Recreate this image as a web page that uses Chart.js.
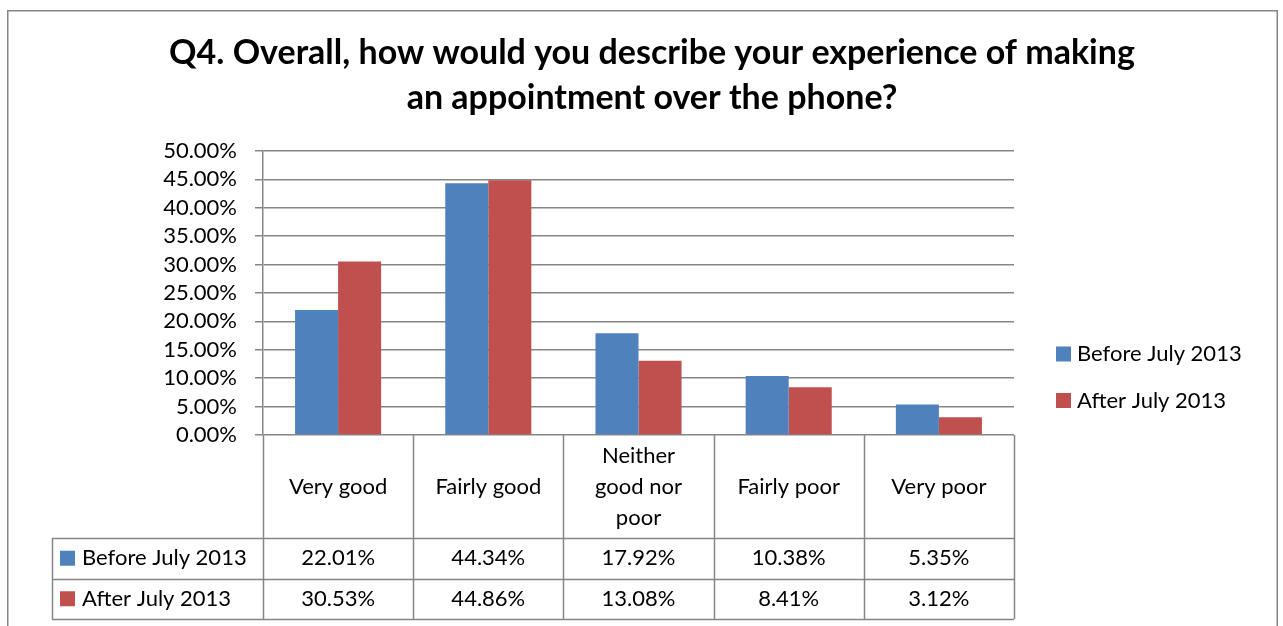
<!DOCTYPE html>
<html>
<head>
<meta charset="utf-8">
<script src="https://cdn.jsdelivr.net/npm/chart.js@4.4.1/dist/chart.umd.min.js"></script>
<style>
  html, body { margin: 0; padding: 0; background: #ffffff; }
  canvas { display: block; }
</style>
</head>
<body>
<canvas id="chart" width="1283" height="626"></canvas>
<script>
// Survey answers, Q4 – share of respondents per answer (percent)
const titleLines = [
  'Q4. Overall, how would you describe your experience of making',
  'an appointment over the phone?'
];
const categories = [
  ['Very good'],
  ['Fairly good'],
  ['Neither', 'good nor', 'poor'],
  ['Fairly poor'],
  ['Very poor']
];
const seriesNames = ['Before July 2013', 'After July 2013'];
const beforeValues = [22.01, 44.34, 17.92, 10.38, 5.35];
const afterValues = [30.53, 44.86, 13.08, 8.41, 3.12];
const seriesColors = ['#4F81BD', '#C0504D'];

const FONT = 'Lato, "Open Sans", sans-serif';
const TEXT_SIZE = 22;
const LINE = '#868686';
const fmt = v => v.toFixed(2) + '%';

// Frame, title and the side legend
const framePlugin = {
  id: 'frame',
  beforeDraw(chart) {
    const ctx = chart.ctx;
    ctx.save();
    ctx.fillStyle = '#ffffff';
    ctx.fillRect(0, 0, chart.width, chart.height);
    ctx.strokeStyle = LINE;
    ctx.lineWidth = 1.5;
    ctx.strokeRect(7.75, 10.75, 1269.5, 700);
    ctx.restore();
  },
  afterDraw(chart) {
    const ctx = chart.ctx;
    ctx.save();
    ctx.fillStyle = '#000000';
    ctx.textAlign = 'center';
    ctx.textBaseline = 'middle';
    ctx.font = 'bold 34px ' + FONT;
    titleLines.forEach((t, i) => ctx.fillText(t, 652, 53 + i * 45));

    // legend at the right of the plot
    ctx.textAlign = 'left';
    ctx.font = TEXT_SIZE + 'px ' + FONT;
    chart.data.datasets.forEach((ds, i) => {
      const cy = 354 + i * 46.5;
      ctx.fillStyle = ds.backgroundColor;
      ctx.fillRect(1056, cy - 7.5, 15, 15);
      ctx.fillStyle = '#000000';
      ctx.fillText(ds.label, 1077, cy);
    });
    ctx.restore();
  }
};

// Data table under the category axis, columns follow the x scale
const tablePlugin = {
  id: 'dataTable',
  afterDraw(chart) {
    const ctx = chart.ctx;
    const xs = chart.scales.x;
    const ys = chart.scales.y;
    const n = chart.data.labels.length;
    const colW = (xs.right - xs.left) / n;
    const top = ys.bottom;
    const headBottom = top + 103;
    const rowH = 40.5;
    const tableLeft = 52;
    const rows = chart.data.datasets.length;
    const bottom = headBottom + rowH * rows;

    ctx.save();
    ctx.strokeStyle = LINE;
    ctx.lineWidth = 1.5;
    ctx.beginPath();
    // column separators
    for (let i = 0; i <= n; i++) {
      const x = Math.round(xs.left + i * colW) + 0.5;
      ctx.moveTo(x, top);
      ctx.lineTo(x, bottom);
    }
    // left edge of the series-name column
    ctx.moveTo(tableLeft + 0.5, headBottom);
    ctx.lineTo(tableLeft + 0.5, bottom);
    // row lines
    for (let r = 0; r <= rows; r++) {
      const y = Math.round(headBottom + r * rowH) + 0.5;
      ctx.moveTo(tableLeft, y);
      ctx.lineTo(xs.right, y);
    }
    ctx.stroke();

    ctx.fillStyle = '#000000';
    ctx.font = TEXT_SIZE + 'px ' + FONT;
    ctx.textBaseline = 'middle';
    ctx.textAlign = 'center';
    // category headers
    chart.data.labels.forEach((lab, i) => {
      const cx = xs.getPixelForValue(i);
      const lines = Array.isArray(lab) ? lab : [lab];
      const mid = (top + headBottom) / 2;
      const lh = 31;
      lines.forEach((t, k) => {
        ctx.fillText(t, cx, mid + (k - (lines.length - 1) / 2) * lh);
      });
    });
    // series rows
    chart.data.datasets.forEach((ds, r) => {
      const cy = headBottom + rowH * r + rowH / 2;
      ctx.fillStyle = ds.backgroundColor;
      ctx.fillRect(60, cy - 7.5, 15, 15);
      ctx.fillStyle = '#000000';
      ctx.textAlign = 'left';
      ctx.fillText(ds.label, 82, cy);
      ctx.textAlign = 'center';
      ds.data.forEach((v, i) => {
        ctx.fillText(fmt(v), xs.getPixelForValue(i), cy);
      });
    });
    ctx.restore();
  }
};

new Chart(document.getElementById('chart'), {
  type: 'bar',
  data: {
    labels: categories,
    datasets: [
      { label: seriesNames[0], data: beforeValues, backgroundColor: seriesColors[0] },
      { label: seriesNames[1], data: afterValues, backgroundColor: seriesColors[1] }
    ]
  },
  options: {
    responsive: false,
    animation: false,
    devicePixelRatio: 1,
    layout: { padding: { left: 0, top: 151, right: 269, bottom: 191 } },
    datasets: { bar: { categoryPercentage: 0.573, barPercentage: 1.0, borderWidth: 0 } },
    plugins: {
      legend: { display: false },
      title: { display: false },
      tooltip: { enabled: false }
    },
    scales: {
      x: {
        ticks: { display: false },
        grid: { display: false, drawTicks: false },
        border: { display: false },
        afterFit: s => { s.height = 0; }
      },
      y: {
        min: 0,
        max: 50,
        ticks: {
          stepSize: 5,
          autoSkip: false,
          padding: 18,
          color: '#000000',
          font: { family: FONT, size: TEXT_SIZE },
          callback: v => fmt(v)
        },
        grid: { color: LINE, lineWidth: 1.5, tickLength: 8, drawTicks: true },
        border: { display: true, color: LINE, width: 1.5 },
        afterFit: s => { s.width = 263; }
      }
    }
  },
  plugins: [framePlugin, tablePlugin]
});
</script>
</body>
</html>
